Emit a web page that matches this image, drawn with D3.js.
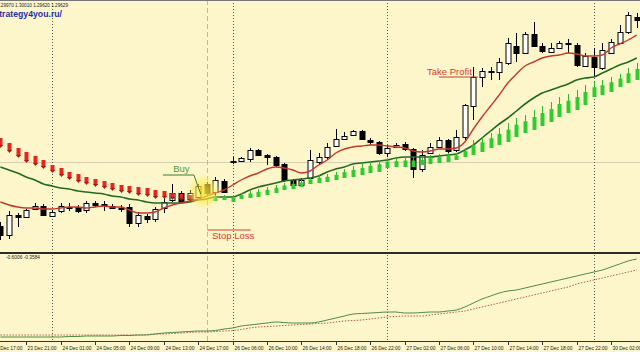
<!DOCTYPE html>
<html>
<head>
<meta charset="utf-8">
<script src="https://cdn.jsdelivr.net/npm/d3@7"></script>
<style>
  html, body { margin: 0; padding: 0; background: #fff; }
  svg { display: block; font-family: "Liberation Sans", Arial, sans-serif; }
</style>
</head>
<body>
<div id="chart"></div>
<script>
const width = 640;
const height = 360;

// time axis (bar index of each labelled hour)
const tickBars = [-1, 3, 7, 11, 15, 19, 23, 27, 31, 35, 39, 43, 47, 51, 55, 59, 63, 67, 71];
const tickLabels = ["23 Dec 17:00", "23 Dec 21:00", "24 Dec 01:00", "24 Dec 05:00", "24 Dec 09:00",
  "24 Dec 13:00", "24 Dec 17:00", "26 Dec 06:00", "26 Dec 10:00", "26 Dec 14:00", "26 Dec 18:00",
  "26 Dec 22:00", "27 Dec 02:00", "27 Dec 06:00", "27 Dec 10:00", "27 Dec 14:00", "27 Dec 18:00",
  "27 Dec 22:00", "30 Dec 02:00"];
const dayStartBars = [6, 27, 45, 69];
const signalBar = 24;

// H1 candles
const opens = [1.2914, 1.2905, 1.2925, 1.2923, 1.2931, 1.2934, 1.2924, 1.2929, 1.2933, 1.2933,
  1.2930, 1.2937, 1.2936, 1.2934, 1.2932, 1.2933, 1.2917, 1.2924, 1.2921, 1.2932,
  1.2940, 1.2947, 1.2941, 1.2943, 1.2956, 1.2948, 1.2959, 1.2979, 1.2979, 1.2981,
  1.2990, 1.2985, 1.2983, 1.2976, 1.2960, 1.2955, 1.2962, 1.2978, 1.2983, 1.2994,
  1.3001, 1.3005, 1.3009, 1.3000, 1.2998, 1.2987, 1.2993, 1.2996, 1.2991, 1.2971,
  1.2987, 1.2993, 1.3000, 1.2990, 1.3003, 1.3034, 1.3063, 1.3069, 1.3068, 1.3077,
  1.3094, 1.3087, 1.3106, 1.3094, 1.3088, 1.3092, 1.3097, 1.3095, 1.3074, 1.3083,
  1.3072, 1.3087, 1.3097, 1.3108, 1.3123];
const highs = [1.2918, 1.2929, 1.2927, 1.2931, 1.2937, 1.2936, 1.2930, 1.2937, 1.2937, 1.2935,
  1.2939, 1.2939, 1.2939, 1.2936, 1.2935, 1.2936, 1.2928, 1.2926, 1.2933, 1.2942,
  1.2956, 1.2949, 1.2950, 1.2956, 1.2958, 1.2963, 1.2961, 1.2983, 1.2983, 1.2992,
  1.2991, 1.2986, 1.2984, 1.2977, 1.2961, 1.2962, 1.2990, 1.2987, 1.2997, 1.3011,
  1.3008, 1.3010, 1.3010, 1.3002, 1.2999, 1.2995, 1.2997, 1.2998, 1.2992, 1.2990,
  1.2997, 1.3003, 1.3001, 1.3010, 1.3036, 1.3073, 1.3072, 1.3073, 1.3082, 1.3102,
  1.3107, 1.3108, 1.3118, 1.3097, 1.3097, 1.3099, 1.3101, 1.3097, 1.3087, 1.3092,
  1.3097, 1.3101, 1.3115, 1.3128, 1.3127];
const lows = [1.2900, 1.2901, 1.2913, 1.2922, 1.2930, 1.2924, 1.2923, 1.2927, 1.2929, 1.2927,
  1.2927, 1.2933, 1.2929, 1.2931, 1.2928, 1.2913, 1.2913, 1.2917, 1.2918, 1.2927,
  1.2938, 1.2937, 1.2939, 1.2941, 1.2945, 1.2945, 1.2947, 1.2976, 1.2978, 1.2978,
  1.2984, 1.2975, 1.2973, 1.2958, 1.2953, 1.2953, 1.2960, 1.2975, 1.2980, 1.2993,
  1.3000, 1.3004, 1.3000, 1.2995, 1.2985, 1.2983, 1.2992, 1.2989, 1.2962, 1.2968,
  1.2986, 1.2992, 1.2987, 1.2988, 1.3000, 1.3020, 1.3053, 1.3060, 1.3060, 1.3075,
  1.3078, 1.3086, 1.3093, 1.3087, 1.3087, 1.3091, 1.3087, 1.3073, 1.3073, 1.3063,
  1.3070, 1.3086, 1.3096, 1.3106, 1.3112];
const closes = [1.2905, 1.2925, 1.2923, 1.2930, 1.2934, 1.2925, 1.2928, 1.2934, 1.2932, 1.2929,
  1.2937, 1.2935, 1.2935, 1.2932, 1.2931, 1.2917, 1.2925, 1.2921, 1.2931, 1.2938,
  1.2947, 1.2938, 1.2947, 1.2954, 1.2947, 1.2960, 1.2948, 1.2978, 1.2982, 1.2990,
  1.2985, 1.2983, 1.2975, 1.2960, 1.2955, 1.2960, 1.2980, 1.2983, 1.2993, 1.3001,
  1.3004, 1.3009, 1.3001, 1.2998, 1.2987, 1.2992, 1.2995, 1.2991, 1.2971, 1.2985,
  1.2993, 1.3000, 1.2989, 1.3003, 1.3035, 1.3063, 1.3069, 1.3068, 1.3078, 1.3097,
  1.3087, 1.3106, 1.3094, 1.3089, 1.3092, 1.3097, 1.3096, 1.3075, 1.3084, 1.3073,
  1.3090, 1.3098, 1.3108, 1.3125, 1.3120];

// moving averages
const fastMA = [1.2938, 1.2935, 1.2933, 1.2932, 1.2932, 1.2931, 1.2931, 1.2932, 1.2933, 1.2933,
  1.2932, 1.2933, 1.2934, 1.2933, 1.2933, 1.2930, 1.2927, 1.2927, 1.2928, 1.2932,
  1.2935, 1.2937, 1.2939, 1.2941, 1.2944, 1.2947, 1.2950, 1.2955, 1.2960, 1.2964,
  1.2967, 1.2971, 1.2973, 1.2972, 1.2970, 1.2967, 1.2969, 1.2975, 1.2980, 1.2987,
  1.2991, 1.2993, 1.2994, 1.2995, 1.2995, 1.2994, 1.2993, 1.2992, 1.2989, 1.2988,
  1.2989, 1.2991, 1.2991, 1.2992, 1.2998, 1.3011, 1.3023, 1.3034, 1.3045, 1.3057,
  1.3066, 1.3074, 1.3078, 1.3082, 1.3084, 1.3085, 1.3087, 1.3086, 1.3084, 1.3084,
  1.3085, 1.3092, 1.3096, 1.3100, 1.3105];
const slowMA = [1.2973, 1.2970, 1.2967, 1.2963, 1.2960, 1.2956, 1.2954, 1.2952, 1.2951, 1.2949,
  1.2948, 1.2947, 1.2946, 1.2944, 1.2943, 1.2941, 1.2940, 1.2938, 1.2937, 1.2937,
  1.2937, 1.2937, 1.2938, 1.2940, 1.2941, 1.2943, 1.2943, 1.2943, 1.2946, 1.2950,
  1.2953, 1.2955, 1.2957, 1.2959, 1.2960, 1.2961, 1.2962, 1.2964, 1.2968, 1.2971,
  1.2973, 1.2976, 1.2977, 1.2978, 1.2979, 1.2980, 1.2982, 1.2983, 1.2983, 1.2983,
  1.2983, 1.2984, 1.2985, 1.2986, 1.2990, 1.2995, 1.3002, 1.3009, 1.3016, 1.3022,
  1.3029, 1.3036, 1.3042, 1.3047, 1.3050, 1.3053, 1.3056, 1.3060, 1.3062, 1.3063,
  1.3067, 1.3071, 1.3075, 1.3078, 1.3082];

// trend arrows: sell from bar 0, buy from bar 25
const sellStart = 0;
const sellHigh = [1.3002, 1.2997, 1.2992, 1.2988, 1.2984, 1.2980, 1.2975, 1.2972, 1.2968, 1.2966,
  1.2963, 1.2961, 1.2959, 1.2957, 1.2955, 1.2954, 1.2953, 1.2952, 1.2950, 1.2949,
  1.2947, 1.2946, 1.2945];
const sellLow = [1.2992, 1.2987, 1.2982, 1.2977, 1.2974, 1.2971, 1.2967, 1.2963, 1.2960, 1.2957,
  1.2955, 1.2953, 1.2951, 1.2949, 1.2947, 1.2946, 1.2944, 1.2943, 1.2941, 1.2941,
  1.2940, 1.2939, 1.2938];
const buyStart = 25;
const buyHigh = [1.2945, 1.2945, 1.2945, 1.2947, 1.2949, 1.2951, 1.2953, 1.2955, 1.2957, 1.2959,
  1.2960, 1.2963, 1.2965, 1.2966, 1.2968, 1.2971, 1.2974, 1.2976, 1.2978, 1.2980,
  1.2982, 1.2982, 1.2983, 1.2983, 1.2983, 1.2985, 1.2986, 1.2987, 1.2987, 1.2992,
  1.3000, 1.3003, 1.3007, 1.3012, 1.3017, 1.3022, 1.3025, 1.3030, 1.3034, 1.3038,
  1.3043, 1.3046, 1.3050, 1.3055, 1.3058, 1.3060, 1.3063, 1.3066, 1.3072, 1.3077];
const buyLow = [1.2939, 1.2940, 1.2938, 1.2941, 1.2942, 1.2943, 1.2945, 1.2947, 1.2950, 1.2951,
  1.2953, 1.2956, 1.2957, 1.2958, 1.2960, 1.2962, 1.2963, 1.2965, 1.2967, 1.2968,
  1.2972, 1.2973, 1.2973, 1.2973, 1.2975, 1.2976, 1.2977, 1.2978, 1.2980, 1.2983,
  1.2985, 1.2988, 1.2992, 1.2995, 1.2998, 1.3003, 1.3007, 1.3010, 1.3014, 1.3018,
  1.3023, 1.3027, 1.3030, 1.3035, 1.3043, 1.3045, 1.3048, 1.3053, 1.3057, 1.3060];

// lower indicator window
const mainLine = [-1.64, -1.64, -1.64, -1.64, -1.64, -1.64, -1.64, -1.64, -1.63, -1.63,
  -1.62, -1.62, -1.62, -1.62, -1.61, -1.61, -1.60, -1.60, -1.58, -1.56,
  -1.55, -1.54, -1.53, -1.52, -1.52, -1.51, -1.48, -1.46, -1.42, -1.40,
  -1.38, -1.36, -1.34, -1.35, -1.36, -1.36, -1.36, -1.34, -1.30, -1.26,
  -1.22, -1.18, -1.17, -1.16, -1.15, -1.14, -1.14, -1.16, -1.16, -1.15,
  -1.14, -1.14, -1.12, -1.10, -1.04, -0.96, -0.88, -0.82, -0.76, -0.72,
  -0.70, -0.66, -0.62, -0.58, -0.54, -0.50, -0.46, -0.42, -0.38, -0.34,
  -0.30, -0.24, -0.18, -0.12, -0.08];
const signalLine = [-1.60, -1.60, -1.60, -1.60, -1.60, -1.60, -1.60, -1.60, -1.60, -1.60,
  -1.60, -1.60, -1.60, -1.60, -1.60, -1.60, -1.60, -1.59, -1.58, -1.58,
  -1.57, -1.56, -1.55, -1.54, -1.54, -1.53, -1.52, -1.51, -1.49, -1.46,
  -1.44, -1.43, -1.42, -1.41, -1.40, -1.39, -1.38, -1.37, -1.36, -1.34,
  -1.32, -1.31, -1.30, -1.28, -1.26, -1.24, -1.23, -1.22, -1.22, -1.22,
  -1.20, -1.18, -1.16, -1.14, -1.12, -1.08, -1.04, -1.00, -0.96, -0.92,
  -0.88, -0.84, -0.80, -0.76, -0.72, -0.68, -0.64, -0.58, -0.54, -0.50,
  -0.46, -0.42, -0.38, -0.34, -0.30];

const bg = "#fdf6cb";

const svg = d3.select("#chart")
  .append("svg")
  .attr("width", width)
  .attr("height", height);

svg.append("rect").attr("width", width).attr("height", 352).attr("fill", bg);

const x = d3.scaleLinear().domain([0, 74]).range([0.4, 636.8]);
const y = d3.scaleLinear().domain([1.2890, 1.3140]).range([250, 0]);
const ySub = d3.scaleLinear().domain([-1.7, 0]).range([340, 255]);
const px = i => Math.round(x(i)) + 0.5;

// price level line
svg.append("line")
  .attr("x1", 0).attr("x2", width)
  .attr("y1", Math.round(y(1.2978)) + 0.5).attr("y2", Math.round(y(1.2978)) + 0.5)
  .attr("stroke", "#d6cfb2").attr("stroke-width", 1);

svg.selectAll(".daysep")
  .data(dayStartBars)
  .enter()
  .append("line")
  .attr("x1", d => px(d)).attr("x2", d => px(d))
  .attr("y1", 0).attr("y2", 341)
  .attr("stroke", "#555").attr("stroke-width", 1)
  .attr("stroke-dasharray", "1,2");

svg.append("line")
  .attr("x1", px(signalBar)).attr("x2", px(signalBar))
  .attr("y1", 0).attr("y2", 341)
  .attr("stroke", "#e2a9a4").attr("stroke-width", 1)
  .attr("stroke-dasharray", "5,3");

// candles
const bars = d3.range(opens.length).map(i => ({
  i, o: opens[i], h: highs[i], l: lows[i], c: closes[i]
}));

const candle = svg.append("g").selectAll("g")
  .data(bars)
  .enter()
  .append("g");

candle.append("line")
  .attr("x1", d => px(d.i)).attr("x2", d => px(d.i))
  .attr("y1", d => Math.round(y(d.h))).attr("y2", d => Math.round(y(d.l)))
  .attr("stroke", "#000").attr("stroke-width", 1);

candle.append("rect")
  .attr("x", d => px(d.i) - 2.5)
  .attr("y", d => Math.round(y(Math.max(d.o, d.c))) + 0.5)
  .attr("width", 5)
  .attr("height", d => Math.max(0.01, Math.round(Math.abs(y(d.o) - y(d.c)))))
  .attr("fill", d => d.c >= d.o ? "#fff" : "#000")
  .attr("stroke", "#000").attr("stroke-width", 1);

// moving averages
const maLine = d3.line().x((d, i) => x(i)).y(d => y(d)).curve(d3.curveMonotoneX);

svg.append("path").datum(slowMA)
  .attr("d", maLine).attr("fill", "none")
  .attr("stroke", "#1f6a1c").attr("stroke-width", 1.6);

svg.append("path").datum(fastMA)
  .attr("d", maLine).attr("fill", "none")
  .attr("stroke", "#c1392b").attr("stroke-width", 1.4);

// sell arrows (red, above price)
const sell = svg.append("g").selectAll("g")
  .data(sellHigh.map((h, k) => ({ i: sellStart + k, h, l: sellLow[k] })))
  .enter().append("g");

sell.append("rect")
  .attr("x", d => px(d.i) - 2)
  .attr("y", d => y(d.h))
  .attr("width", 4)
  .attr("height", d => y(d.l) - y(d.h) - 2)
  .attr("fill", "#e3271c");

sell.append("path")
  .attr("d", d => `M${px(d.i) - 2.5},${y(d.l) - 3}L${px(d.i) + 2.5},${y(d.l) - 3}L${px(d.i)},${y(d.l)}Z`)
  .attr("fill", "#b3150f");

// buy arrows (green, below price)
const buy = svg.append("g").selectAll("g")
  .data(buyHigh.map((h, k) => ({ i: buyStart + k, h, l: buyLow[k] })))
  .enter().append("g");

buy.append("line")
  .attr("x1", d => px(d.i)).attr("x2", d => px(d.i))
  .attr("y1", d => y(d.h)).attr("y2", d => y(d.l))
  .attr("stroke", "#2fb52f").attr("stroke-width", 1);

buy.append("rect")
  .attr("x", d => px(d.i) - 2)
  .attr("y", d => y(d.h) + (y(d.l) - y(d.h)) * 0.35)
  .attr("width", 4)
  .attr("height", d => (y(d.l) - y(d.h)) * 0.65)
  .attr("fill", "#2ecc2e");

// highlight glow around the entry candle
const glow = svg.append("defs").append("radialGradient").attr("id", "glow");
glow.append("stop").attr("offset", "0%").attr("stop-color", "#ffe22e").attr("stop-opacity", 0.85);
glow.append("stop").attr("offset", "55%").attr("stop-color", "#ffe94a").attr("stop-opacity", 0.6);
glow.append("stop").attr("offset", "100%").attr("stop-color", "#fff080").attr("stop-opacity", 0);

svg.append("circle")
  .attr("cx", x(signalBar - 0.35)).attr("cy", y(1.2948))
  .attr("r", 18)
  .attr("fill", "url(#glow)");

// annotations
const ann = svg.append("g").attr("font-size", 9.5);

ann.append("path")
  .attr("d", `M${x(18.9)},${y(1.2965)}L${x(22.5)},${y(1.2965)}L${x(23.3)},${y(1.2946)}`)
  .attr("fill", "none").attr("stroke", "#3d7d2f").attr("stroke-width", 1);
ann.append("text")
  .attr("x", x(20.1)).attr("y", y(1.2968))
  .attr("fill", "#4a9a3a")
  .text("Buy");

ann.append("line")
  .attr("x1", x(24.05)).attr("x2", x(29.1))
  .attr("y1", y(1.2910)).attr("y2", y(1.2910))
  .attr("stroke", "#d0402c").attr("stroke-width", 1);
ann.append("text")
  .attr("x", x(24.6)).attr("y", y(1.2901))
  .attr("fill", "#d0402c")
  .text("Stop Loss");

ann.append("line")
  .attr("x1", x(51)).attr("x2", x(55.5))
  .attr("y1", y(1.3063)).attr("y2", y(1.3063))
  .attr("stroke", "#c0402c").attr("stroke-width", 1.2);
ann.append("text")
  .attr("x", x(49.6)).attr("y", y(1.3065))
  .attr("fill", "#d0402c")
  .text("Take Profit");

// header texts (the window is scrolled, so they run off the left edge)
svg.append("line").attr("x1", 0).attr("x2", width).attr("y1", 0.5).attr("y2", 0.5)
  .attr("stroke", "#777");
svg.append("text")
  .attr("x", -3).attr("y", 7)
  .attr("font-size", 6).attr("fill", "#222")
  .attr("textLength", 71).attr("lengthAdjust", "spacingAndGlyphs")
  .text("1.29970 1.30010 1.29620 1.29629");
svg.append("text")
  .attr("x", -28).attr("y", 17)
  .attr("font-size", 9.5).attr("font-weight", "bold").attr("fill", "#1f2ea8")
  .attr("textLength", 90).attr("lengthAdjust", "spacingAndGlyphs")
  .text("www.strategy4you.ru/");

// sub window separator
svg.append("rect").attr("x", 0).attr("y", 252).attr("width", width).attr("height", 2).attr("fill", "#2b2b2b");

svg.append("text")
  .attr("x", 6).attr("y", 259)
  .attr("font-size", 6).attr("fill", "#222")
  .attr("textLength", 34).attr("lengthAdjust", "spacingAndGlyphs")
  .text("-0.6006 -0.3584");

const subLine = d3.line().x((d, i) => x(i)).y(d => ySub(d)).curve(d3.curveMonotoneX);

svg.append("path").datum(signalLine)
  .attr("d", subLine).attr("fill", "none")
  .attr("stroke", "#b0603e").attr("stroke-width", 1)
  .attr("stroke-dasharray", "1.5,1.5");

svg.append("path").datum(mainLine)
  .attr("d", subLine).attr("fill", "none")
  .attr("stroke", "#4f8a44").attr("stroke-width", 1);

// time axis
svg.append("line").attr("x1", 0).attr("x2", width).attr("y1", 341.5).attr("y2", 341.5)
  .attr("stroke", "#333");

const tick = svg.append("g").selectAll("g")
  .data(tickBars.map((b, k) => ({ b, label: tickLabels[k] })))
  .enter().append("g");

tick.append("line")
  .attr("x1", d => px(d.b)).attr("x2", d => px(d.b))
  .attr("y1", 341).attr("y2", 345)
  .attr("stroke", "#333");

tick.append("text")
  .attr("x", d => px(d.b) + 1).attr("y", 350)
  .attr("font-size", 6).attr("fill", "#222")
  .attr("textLength", 29).attr("lengthAdjust", "spacingAndGlyphs")
  .text(d => d.label);
</script>
</body>
</html>
